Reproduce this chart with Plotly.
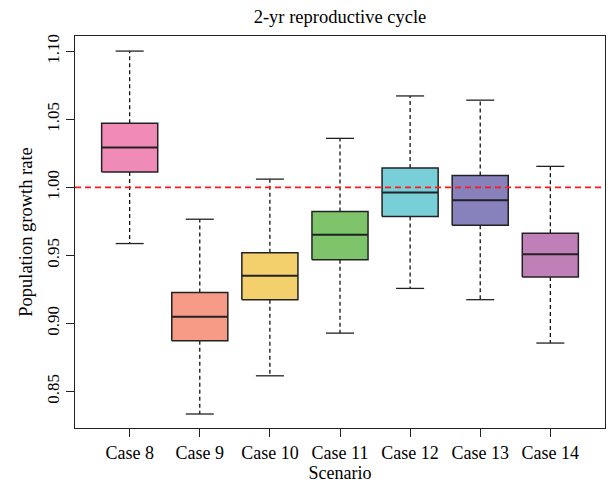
import plotly.graph_objects as go

categories = ["Case 8", "Case 9", "Case 10", "Case 11", "Case 12", "Case 13", "Case 14"]
lower_whisker = [0.9587, 0.8333, 0.8614, 0.8928, 0.9257, 0.9174, 0.8855]
q1 = [1.0113, 0.8872, 0.9174, 0.9467, 0.9786, 0.9722, 0.9341]
median = [1.0293, 0.9049, 0.9350, 0.9651, 0.9963, 0.9906, 0.9508]
q3 = [1.0472, 0.9226, 0.9520, 0.9823, 1.0142, 1.0088, 0.9663]
upper_whisker = [1.1003, 0.9766, 1.0061, 1.0361, 1.0673, 1.0642, 1.0155]
colors = ["#F08AB7", "#F69C86", "#F4D06C", "#7EC46A", "#78CFD8", "#8781BC", "#BE80B6"]
y_ticks = [0.85, 0.90, 0.95, 1.00, 1.05, 1.10]
reference_level = 1.0

BOX_HALF = 0.4
CAP_HALF = 0.2
FONT = "Liberation Serif, Times New Roman, serif"

fig = go.Figure()
xpos = list(range(1, len(categories) + 1))

for i, x in enumerate(xpos):
    # whiskers (dashed)
    fig.add_trace(go.Scatter(x=[x, x, None, x, x],
                             y=[q3[i], upper_whisker[i], None, q1[i], lower_whisker[i]],
                             mode="lines", line=dict(color="black", width=1.2, dash="4px,3px"),
                             hoverinfo="skip", showlegend=False))
    # caps
    fig.add_trace(go.Scatter(x=[x - CAP_HALF, x + CAP_HALF, None, x - CAP_HALF, x + CAP_HALF],
                             y=[upper_whisker[i], upper_whisker[i], None, lower_whisker[i], lower_whisker[i]],
                             mode="lines", line=dict(color="#222222", width=1.3),
                             hoverinfo="skip", showlegend=False))
    # box
    fig.add_trace(go.Scatter(x=[x - BOX_HALF, x + BOX_HALF, x + BOX_HALF, x - BOX_HALF, x - BOX_HALF],
                             y=[q1[i], q1[i], q3[i], q3[i], q1[i]],
                             mode="lines", fill="toself", fillcolor=colors[i],
                             line=dict(color="#222222", width=1.5),
                             name=categories[i], showlegend=False))
    # median
    fig.add_trace(go.Scatter(x=[x - BOX_HALF, x + BOX_HALF], y=[median[i], median[i]],
                             mode="lines", line=dict(color="#222222", width=2),
                             hoverinfo="skip", showlegend=False))

fig.add_shape(type="line", xref="paper", x0=0, x1=1, yref="y",
              y0=reference_level, y1=reference_level, layer="above",
              line=dict(color="#FF1A1A", width=1.6, dash="6px,4px"))

fig.update_layout(
    width=611, height=483,
    margin=dict(l=75, r=6, t=36, b=55),
    plot_bgcolor="white", paper_bgcolor="white",
    font=dict(family=FONT, color="black", size=17),
    title=dict(text="2-yr reproductive cycle", x=(75 + 605) / 2 / 611, xanchor="center",
               y=1 - 17 / 483, yanchor="middle", font=dict(size=18.5)),
)
fig.update_xaxes(range=[0.22, 7.78], tickvals=xpos, ticktext=categories,
                 ticks="outside", ticklen=8, tickcolor="#222222", tickwidth=1.2,
                 showline=True, mirror=True, linecolor="#222222", linewidth=1.2,
                 showgrid=False, zeroline=False, tickfont=dict(size=18),
                 title=dict(text="Scenario", font=dict(size=18), standoff=2))
fig.update_yaxes(range=[0.823, 1.1114], tickvals=y_ticks,
                 ticktext=[f"{v:.2f}" for v in y_ticks], tickangle=-90,
                 ticks="outside", ticklen=8, tickcolor="#222222", tickwidth=1.2,
                 showline=True, mirror=True, linecolor="#222222", linewidth=1.2,
                 showgrid=False, zeroline=False, tickfont=dict(size=17),
                 title=dict(text="Population growth rate", font=dict(size=18.5), standoff=6))

fig.write_html("out.html", config={"displayModeBar": False},
               post_script="document.body.style.margin='0';document.body.style.overflow='hidden';")
